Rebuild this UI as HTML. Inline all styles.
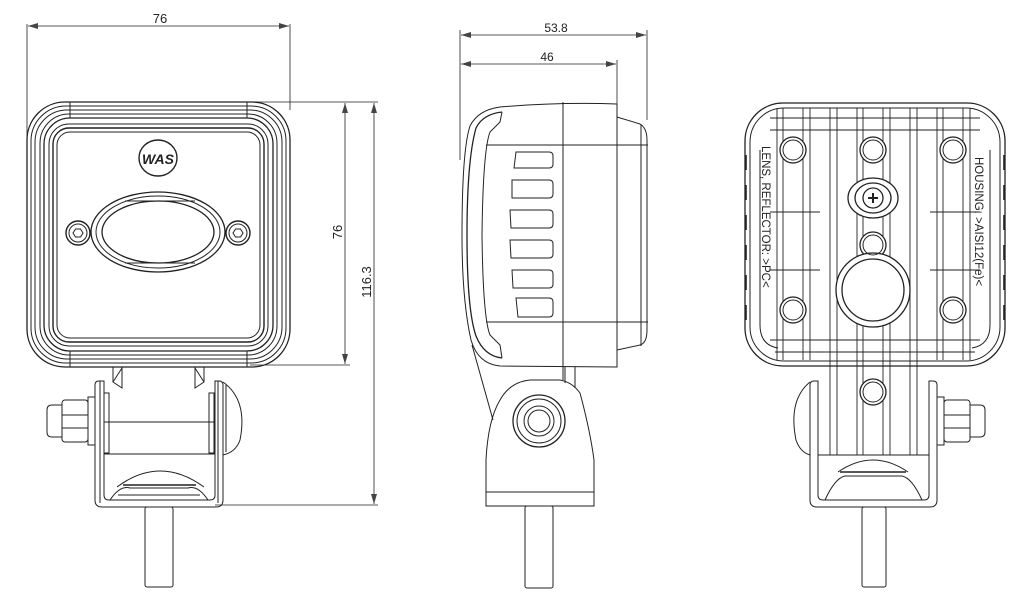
<!DOCTYPE html>
<html><head><meta charset="utf-8"><style>
html,body{margin:0;padding:0;background:#fff;}
svg{display:block;}
text{font-family:"Liberation Sans",sans-serif;fill:#222;}
</style></head><body>
<svg width="1024" height="607" viewBox="0 0 1024 607" xmlns="http://www.w3.org/2000/svg" fill="none" stroke="#222" stroke-width="1">
<defs>
<marker id="ar" viewBox="0 0 10 6" refX="10" refY="3" markerWidth="10" markerHeight="6" orient="auto-start-reverse" markerUnits="userSpaceOnUse"><path d="M0,0 L10,3 L0,6 Z" fill="#444" stroke="none"/></marker>
</defs>

<!-- ============ FRONT VIEW ============ -->
<g stroke-width="0.8">
<line x1="27" y1="24" x2="27" y2="160"/>
<line x1="290" y1="24" x2="290" y2="110"/>
<line x1="28" y1="26" x2="289" y2="26" marker-start="url(#ar)" marker-end="url(#ar)"/>
<line x1="158" y1="102" x2="378" y2="102"/>
<line x1="250" y1="365" x2="350" y2="365"/>
<line x1="215" y1="505" x2="378" y2="505"/>
<line x1="345" y1="103" x2="345" y2="364" marker-start="url(#ar)" marker-end="url(#ar)"/>
<line x1="374" y1="103" x2="374" y2="504" marker-start="url(#ar)" marker-end="url(#ar)"/>
</g>
<text x="160" y="23" font-size="13" text-anchor="middle" stroke="none">76</text>
<text transform="translate(342,232) rotate(-90)" font-size="13" text-anchor="middle" stroke="none">76</text>
<text transform="translate(371,282) rotate(-90)" font-size="13" text-anchor="middle" stroke="none">116.3</text>

<g>
<rect x="27" y="102" width="263" height="265" rx="38" stroke-width="1.3"/>
<rect x="31" y="106" width="255" height="257" rx="35"/>
<rect x="35" y="110" width="247" height="249" rx="32"/>
<rect x="40" y="114" width="237" height="241" rx="29"/>
<rect x="44" y="118" width="229" height="233" rx="26" stroke-width="1.3"/>
<rect x="49" y="124" width="219" height="222" rx="20"/>
<rect x="53" y="128" width="211" height="214" rx="16" stroke-width="1.4"/>
<rect x="57" y="132" width="203" height="206" rx="13"/>
<line x1="70" y1="102" x2="70" y2="118"/><line x1="247" y1="102" x2="247" y2="118"/>
<line x1="70" y1="351" x2="70" y2="367"/><line x1="247" y1="351" x2="247" y2="367"/>
<ellipse cx="158" cy="158" rx="19" ry="18" stroke-width="1.4"/>
<text x="158" y="164" font-size="14" font-weight="bold" text-anchor="middle" stroke="none" font-style="italic">WAS</text>
<ellipse cx="158" cy="232" rx="67" ry="40" stroke-width="1.3"/>
<ellipse cx="158" cy="232" rx="62" ry="36"/>
<ellipse cx="158" cy="232" rx="56" ry="31" stroke-width="1.3"/>
<line x1="125" y1="201" x2="195" y2="201"/><line x1="125" y1="263" x2="195" y2="263"/>
<circle cx="78" cy="233" r="12" stroke-width="1.4"/><circle cx="78" cy="233" r="9"/>
<polygon points="73,233 75.5,229 80.5,229 83,233 80.5,237 75.5,237"/>
<circle cx="238" cy="233" r="12" stroke-width="1.4"/><circle cx="238" cy="233" r="9"/>
<polygon points="233,233 235.5,229 240.5,229 243,233 240.5,237 235.5,237"/>
</g>
<g>
<path d="M113,367 L113,382 L122,388 L122,367"/><path d="M113,382 L122,368"/>
<path d="M204,367 L204,382 L195,388 L195,367"/><path d="M204,382 L195,368"/>
<path d="M95,385 Q95,381 99,381 L104,381 L104,495 Q104,500 109,500 L210,500 Q215,500 215,495 L215,381 L219,381 Q223,381 223,385 L223,500 Q223,507 216,507 L102,507 Q95,507 95,500 Z"/>
<line x1="100" y1="381" x2="100" y2="503"/><line x1="218" y1="381" x2="218" y2="503"/>
<rect x="104" y="393" width="5" height="60"/><rect x="209" y="393" width="5" height="60"/>
<line x1="104" y1="422" x2="215" y2="422"/><line x1="104" y1="454" x2="215" y2="454"/>
<path d="M223,382 Q248,400 240,440 Q236,452 223,455"/><line x1="226" y1="385" x2="226" y2="452"/>
<rect x="88" y="397" width="7" height="48"/>
<rect x="62" y="400" width="26" height="42" rx="3"/>
<line x1="62" y1="415" x2="88" y2="415"/><line x1="62" y1="428" x2="88" y2="428"/>
<path d="M62,405 L52,405 Q47,405 47,410 L47,432 Q47,437 52,437 L62,437"/>
<path d="M117,487 Q160,455 204,487"/><path d="M123,485 L196,485" stroke-width="1.6"/>
<path d="M110,500 Q120,485 130,488 L188,488 Q198,485 208,500"/>
<line x1="118" y1="495" x2="200" y2="495"/>
<rect x="145" y="507" width="28" height="80" rx="2"/>
</g>

<!-- ============ SIDE VIEW ============ -->
<g stroke-width="0.8">
<line x1="460" y1="30" x2="460" y2="160"/>
<line x1="647" y1="30" x2="647" y2="120"/>
<line x1="617" y1="60" x2="617" y2="105"/>
<line x1="461" y1="35" x2="646" y2="35" marker-start="url(#ar)" marker-end="url(#ar)"/>
<line x1="461" y1="64" x2="616" y2="64" marker-start="url(#ar)" marker-end="url(#ar)"/>
</g>
<text x="556" y="32" font-size="12" text-anchor="middle" stroke="none">53.8</text>
<text x="547" y="61" font-size="12" text-anchor="middle" stroke="none">46</text>
<g>
<path d="M617,104 L617,367 L500,366 Q478,364 471,340 Q462,300 462,235 Q462,150 470,126 Q478,110 500,107 Q560,102 617,104"/>
<path d="M502,112 Q483,114 476,128 Q467,160 467,235 Q467,310 476,336 Q484,356 502,358" stroke-width="1.3"/>
<path d="M502,112 L500,122 L490,132 Q483,150 482,235 Q483,318 490,335 L500,345 L502,358"/>
<line x1="563" y1="102" x2="563" y2="380"/>
<line x1="486" y1="145" x2="648" y2="145"/><line x1="486" y1="322" x2="648" y2="322"/>
<path d="M617,117 L640,124 Q647,128 647,140 L647,330 Q647,343 640,345 L617,350"/>
<line x1="641" y1="124" x2="641" y2="346"/>
<path d="M516,152 L549,152 Q553,152 553,156 L553,164 Q553,168 549,168 L514,168 Z"/>
<path d="M512,180 L549,180 Q553,180 553,184 L553,194 Q553,198 549,198 L512,198 Z"/>
<path d="M510,210 L549,210 Q553,210 553,214 L553,224 Q553,228 549,228 L511,228 Z"/>
<path d="M510,240 L549,240 Q553,240 553,244 L553,254 Q553,258 549,258 L511,258 Z"/>
<path d="M512,270 L549,270 Q553,270 553,274 L553,284 Q553,288 549,288 L513,288 Z"/>
<path d="M516,298 L549,298 Q553,298 553,302 L553,313 Q553,317 549,317 L518,317 Z"/>
<path d="M472,345 L493,420"/>
<path d="M575,367 L575,388 M565,367 L565,383"/>
<path d="M486,506 L486,460 Q488,420 500,400 Q510,382 530,380 L560,380 Q572,382 580,393 Q590,430 594,460 L594,506 Z"/>
<line x1="486" y1="492" x2="594" y2="492"/>
<circle cx="539" cy="421" r="26" stroke-width="1.3"/><circle cx="539" cy="421" r="22"/>
<circle cx="539" cy="421" r="15"/><circle cx="539" cy="421" r="11"/>
<rect x="525" y="506" width="28" height="82" rx="2"/>
</g>

<!-- ============ REAR VIEW ============ -->
<g>
<rect x="745" y="103" width="260" height="263" rx="38" stroke-width="1.3"/>
<rect x="750" y="108" width="250" height="253" rx="34"/>
<path d="M760,150 L760,325 Q760,345 778,348 M990,150 L990,325 Q990,345 972,348"/>
<path d="M770,118 L980,118 M775,352 L975,352"/>
<g stroke-width="0.9">
<line x1="777" y1="108" x2="777" y2="360"/><line x1="783" y1="108" x2="783" y2="360"/>
<line x1="803" y1="108" x2="803" y2="360"/><line x1="810" y1="108" x2="810" y2="360"/>
<line x1="830" y1="108" x2="830" y2="455"/><line x1="837" y1="108" x2="837" y2="455"/>
<line x1="857" y1="108" x2="857" y2="455"/><line x1="863" y1="108" x2="863" y2="455"/>
<line x1="883" y1="108" x2="883" y2="455"/><line x1="890" y1="108" x2="890" y2="455"/>
<line x1="910" y1="108" x2="910" y2="455"/><line x1="917" y1="108" x2="917" y2="455"/>
<line x1="937" y1="108" x2="937" y2="360"/><line x1="943" y1="108" x2="943" y2="360"/>
<line x1="963" y1="108" x2="963" y2="360"/><line x1="970" y1="108" x2="970" y2="360"/>
<line x1="770" y1="130" x2="980" y2="130"/><line x1="770" y1="212" x2="820" y2="212"/>
<line x1="930" y1="212" x2="980" y2="212"/><line x1="770" y1="270" x2="820" y2="270"/>
<line x1="930" y1="270" x2="980" y2="270"/><line x1="770" y1="340" x2="980" y2="340"/>
</g>
<g fill="#fff" stroke-width="1.3">
<circle cx="793" cy="150" r="13"/><circle cx="873" cy="150" r="13"/><circle cx="953" cy="150" r="13"/>
<circle cx="793" cy="310" r="13"/><circle cx="953" cy="310" r="13"/><circle cx="873" cy="245" r="13"/>
<circle cx="873" cy="392" r="13"/>
<ellipse cx="873" cy="198" rx="25" ry="20"/><ellipse cx="873" cy="198" rx="18" ry="15"/>
<circle cx="873" cy="198" r="10"/>
<circle cx="873" cy="290" r="37"/><circle cx="873" cy="290" r="31"/>
</g>
<g fill="none"><circle cx="793" cy="150" r="10"/><circle cx="873" cy="150" r="10"/><circle cx="953" cy="150" r="10"/>
<circle cx="793" cy="310" r="10"/><circle cx="953" cy="310" r="10"/><circle cx="873" cy="245" r="10"/><circle cx="873" cy="392" r="10"/></g>
<path d="M868,198 L878,198 M873,193 L873,203" stroke-width="2"/>
<g stroke-width="1.6">
<line x1="746" y1="155" x2="746" y2="170"/><line x1="746" y1="185" x2="746" y2="200"/><line x1="746" y1="215" x2="746" y2="230"/>
<line x1="746" y1="245" x2="746" y2="260"/><line x1="746" y1="275" x2="746" y2="290"/><line x1="746" y1="305" x2="746" y2="320"/>
<line x1="1004" y1="155" x2="1004" y2="170"/><line x1="1004" y1="185" x2="1004" y2="200"/><line x1="1004" y1="215" x2="1004" y2="230"/>
<line x1="1004" y1="245" x2="1004" y2="260"/><line x1="1004" y1="275" x2="1004" y2="290"/><line x1="1004" y1="305" x2="1004" y2="320"/>
</g>
<text transform="translate(762,146) rotate(90)" font-size="11.5" stroke="none">LENS, REFLECTOR: &gt;PC&lt;</text>
<text transform="translate(975,157) rotate(90)" font-size="11.5" stroke="none">HOUSING: &gt;AISI12(Fe)&lt;</text>
<path d="M810,385 Q810,381 814,381 L818,381 L818,495 Q818,500 823,500 L924,500 Q929,500 929,495 L929,381 L933,381 Q937,381 937,385 L937,500 Q937,507 930,507 L817,507 Q810,507 810,500 Z"/>
<line x1="818" y1="455" x2="929" y2="455"/>
<path d="M810,382 Q788,400 796,440 Q800,452 810,455"/>
<rect x="937" y="397" width="7" height="48"/>
<rect x="944" y="400" width="26" height="42" rx="3"/>
<line x1="944" y1="415" x2="970" y2="415"/><line x1="944" y1="428" x2="970" y2="428"/>
<path d="M970,405 L980,405 Q985,405 985,410 L985,432 Q985,437 980,437 L970,437"/>
<path d="M838,472 Q873,448 908,472"/><path d="M840,472 L906,472" stroke-width="1.6"/>
<path d="M825,500 Q835,478 845,476 L902,476 Q912,478 922,500"/>
<rect x="862" y="507" width="24" height="80" rx="2"/>
</g>
</svg>
</body></html>
